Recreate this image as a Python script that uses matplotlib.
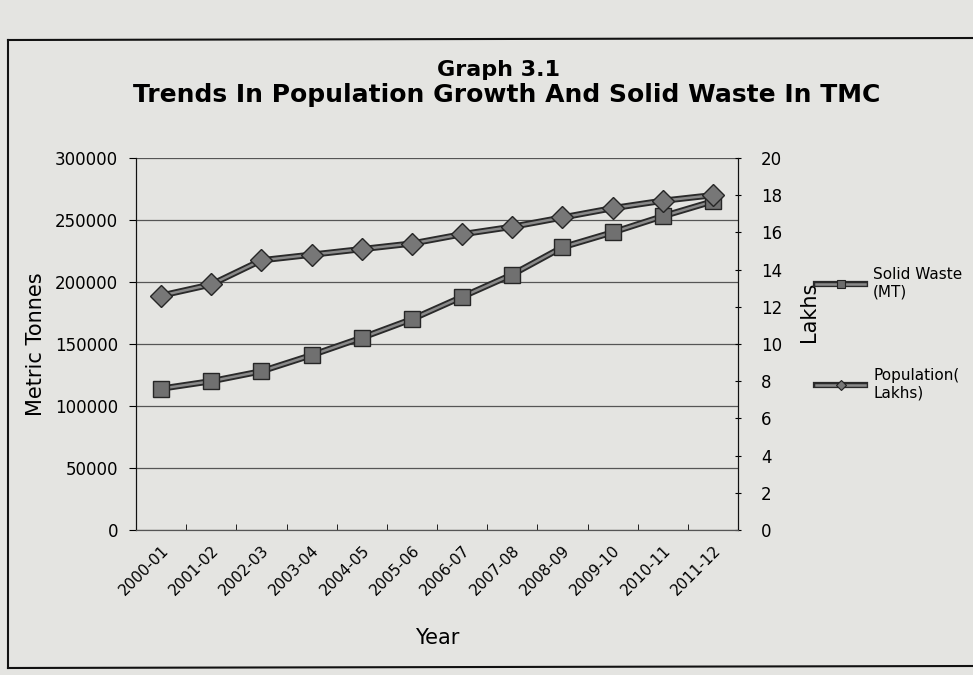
import numpy as np
import matplotlib.pyplot as plt
import matplotlib.patheffects as pe
import matplotlib.transforms as mtransforms
from matplotlib.lines import Line2D

years = ["2000-01", "2001-02", "2002-03", "2003-04", "2004-05", "2005-06",
         "2006-07", "2007-08", "2008-09", "2009-10", "2010-11", "2011-12"]
solid_waste = [114000, 120000, 128000, 141000, 155000, 170000,
               188000, 206000, 228000, 240000, 253000, 265000]
population = [12.6, 13.2, 14.5, 14.8, 15.1, 15.4,
              15.9, 16.3, 16.8, 17.3, 17.7, 18.0]

paper = "#e4e4e1"
line_fx = [pe.Stroke(linewidth=4.5, foreground="#2a2a2a"), pe.Normal()]

fig = plt.figure(figsize=(9.73, 6.75), dpi=100, facecolor=paper)
ax = fig.add_axes([0.1398, 0.2148, 0.6187, 0.5512])
ax.set_facecolor(paper)
ax2 = ax.twinx()

x = np.arange(len(years))
# line with a dark outline, markers drawn on top without the outline effect
ax.plot(x, solid_waste, color="#8a8a8a", lw=1.8, path_effects=line_fx, zorder=3)
ax.plot(x, solid_waste, ls="none", marker="s", markersize=12,
        markerfacecolor="#707070", markeredgecolor="#262626",
        markeredgewidth=1.0, zorder=4)
ax2.plot(x, population, color="#8a8a8a", lw=1.8, path_effects=line_fx, zorder=3)
ax2.plot(x, population, ls="none", marker="D", markersize=11,
         markerfacecolor="#777777", markeredgecolor="#262626",
         markeredgewidth=1.0, zorder=4)

ax.set_xlim(-0.5, len(years) - 0.5)
ax.set_ylim(0, 300000)
ax2.set_ylim(0, 20)
ax.set_yticks(np.arange(0, 300001, 50000))
ax2.set_yticks(np.arange(0, 21, 2))
ax.grid(axis="y", color="#555555", lw=0.9)
ax.set_axisbelow(True)

ax.set_xticks(x)
ax.set_xticklabels(years, rotation=45, ha="right", rotation_mode="anchor",
                   fontsize=11)
shift = mtransforms.ScaledTranslation(-0.09, 0, fig.dpi_scale_trans)
for lbl in ax.get_xticklabels():
    lbl.set_transform(lbl.get_transform() + shift)
ax.set_xticks(np.arange(-0.5, len(years)), minor=True)
ax.tick_params(axis="x", which="major", length=0, pad=9)
ax.tick_params(axis="x", which="minor", length=4, direction="in")
ax.tick_params(axis="y", labelsize=12, length=5, direction="out", pad=8)
ax2.tick_params(axis="y", labelsize=12, length=5, direction="inout", pad=14)

for a in (ax, ax2):
    a.spines["top"].set_visible(False)
    a.spines["left"].set_color("#111111")
    a.spines["right"].set_color("#111111")
    a.spines["bottom"].set_color("#555555")

ax.set_xlabel("Year", fontsize=15, labelpad=22)
ax.set_ylabel("Metric Tonnes", fontsize=15)
ax.yaxis.set_label_coords(-0.150, 0.5)
ax2.set_ylabel("Lakhs", fontsize=15)
ax2.yaxis.set_label_coords(1.101, 0.586)

fig.text(0.512, 0.896, "Graph 3.1", ha="center", va="center",
         fontsize=16, fontweight="bold")
fig.text(0.521, 0.859, "Trends In Population Growth And Solid Waste In TMC",
         ha="center", va="center", fontsize=18, fontweight="bold")


def legend_handle(marker, size, face):
    ln = Line2D([], [], color="#8a8a8a", lw=1.8, path_effects=line_fx)
    mk = Line2D([], [], ls="none", marker=marker, markersize=size,
                markerfacecolor=face, markeredgecolor="#222222",
                markeredgewidth=0.8)
    return (ln, mk)


handles = [legend_handle("s", 6, "#6c6c6c"), legend_handle("D", 5, "#777777")]
fig.legend(handles, ["Solid Waste\n(MT)", "Population(\nLakhs)"],
           loc="upper left", bbox_to_anchor=(0.825, 0.625), frameon=False,
           fontsize=11, handlelength=3.2, labelspacing=4.5, handletextpad=0.5)

# chart frame
fig.add_artist(Line2D([8 / 973, 8 / 973], [1 - 40 / 675, 1 - 668 / 675],
                      transform=fig.transFigure, color="#111111", lw=1.5))
fig.add_artist(Line2D([8 / 973, 1], [1 - 40 / 675, 1 - 38 / 675],
                      transform=fig.transFigure, color="#111111", lw=1.5))
fig.add_artist(Line2D([8 / 973, 1], [1 - 668 / 675, 1 - 666 / 675],
                      transform=fig.transFigure, color="#111111", lw=1.5))

fig.savefig("out.png", dpi=100, facecolor=paper)
